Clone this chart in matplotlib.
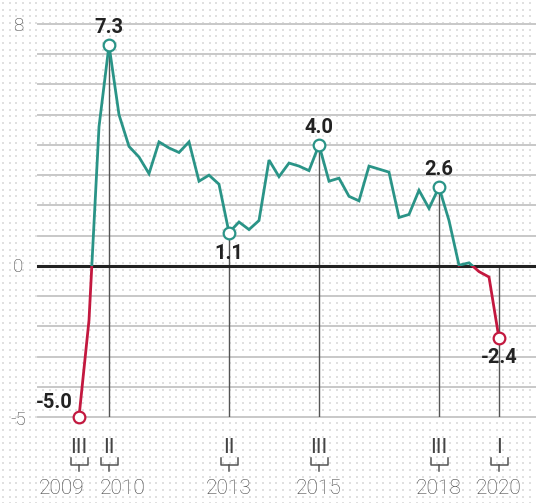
import matplotlib
matplotlib.use("Agg")
import matplotlib.pyplot as plt
from matplotlib.patches import Rectangle
import numpy as np

# quarterly values, 2009 III .. 2020 I
values = [-5.0, -1.8, 4.6, 7.3, 5.0, 3.95, 3.6, 3.05, 4.1, 3.9,
          3.75, 4.1, 2.8, 3.0, 2.7, 1.1, 1.45, 1.2, 1.5, 3.5,
          2.95, 3.4, 3.3, 3.15, 4.0, 2.8, 2.9, 2.3, 2.15, 3.3,
          3.2, 3.1, 1.6, 1.7, 2.5, 1.9, 2.6, 1.5, 0.02, 0.1,
          -0.19, -0.37, -2.4]
marked = [0, 3, 15, 24, 36, 42]
marked_quarters = ["III", "II", "II", "III", "III", "I"]
marked_years = ["2009", "2010", "2013", "2015", "2018", "2020"]
yticks = [8, 0, -5]

TEAL = "#2a9487"
RED = "#c3183f"
GREY = "#555555"

plt.rcParams["font.family"] = ["Roboto", "DejaVu Sans"]

W, H = 536, 503
fig = plt.figure(figsize=(W / 100, H / 100), dpi=100)

# dotted paper background
bg = np.ones((H, W, 3))
for yy in np.round(np.arange(2, H, 6.67)).astype(int):
    for xx in np.round(np.arange(2, W, 6.67)).astype(int):
        bg[yy:yy + 2, xx:xx + 2] = 0.88
fig.figimage(bg, xo=0, yo=0, zorder=-10)

ax = fig.add_axes([38 / W, (H - 417) / H, (W - 38) / W, (417 - 24) / H])
ax.patch.set_alpha(0)
ax.set_xlim(-4.1, 45.7)
ax.set_ylim(-5, 8)
for s in ax.spines.values():
    s.set_visible(False)
ax.set_xticks([])
ax.set_yticks([])

x = np.arange(len(values))
v = np.array(values)

# grid
for g in range(-5, 9):
    if g == 0:
        continue
    ax.axhline(g, color="#c8c8c8", lw=1.4, zorder=1, clip_on=False)
ax.axhline(0, color="#222222", lw=2.2, zorder=3, clip_on=False)

for lab in yticks:
    dy = -0.1 if lab == -5 else -0.05
    ax.text(-6.1, lab + dy, str(lab), ha="center", va="center", fontsize=13.5,
            fontweight="light", color="#444444", clip_on=False)

# vertical markers
for i in marked:
    if values[i] > -5:
        ax.plot([i, i], [-5, max(values[i], 0)], color=GREY, lw=1.0, zorder=2)

# line, teal above zero, red below
pos, = ax.plot(x, v, color=TEAL, lw=2.0, zorder=4, solid_joinstyle="miter")
neg, = ax.plot(x, v, color=RED, lw=2.0, zorder=4, solid_joinstyle="miter")
pos.set_clip_path(Rectangle((-10, 0), 80, 20, transform=ax.transData))
neg.set_clip_path(Rectangle((-10, -20), 80, 20, transform=ax.transData))

for i in marked:
    c = TEAL if values[i] > 0 else RED
    ax.plot(i, values[i], "o", ms=8.4, mfc="white", mec=c, mew=1.6,
            zorder=5, clip_on=False)

# value labels
offsets = {0: (-4.5, 10.5, "right"), 3: (0, 12.5, "center"), 15: (0, -15, "center"),
           24: (0, 12.5, "center"), 36: (0, 12.5, "center"), 42: (0, -14, "center")}
for i in marked:
    dx, dy, ha = offsets[i]
    ax.annotate(f"{values[i]:.1f}", (i, values[i]), xytext=(dx, dy),
                textcoords="offset points", ha=ha, va="center", fontsize=14.5,
                fontweight="bold", color="#222222", zorder=6,
                annotation_clip=False)

# quarter / year labels under the axis
year_shift = {0: -1.7, 3: 1.4}
for i, q, yr in zip(marked, marked_quarters, marked_years):
    ax.text(i, -6.0, q, ha="center", va="center", fontsize=15,
            fontweight="normal", color="#444444", clip_on=False)
    ax.plot([i - 0.85, i - 0.85, i + 0.85, i + 0.85], [-6.37, -6.59, -6.59, -6.37],
            color=GREY, lw=1.1, clip_on=False)
    ax.plot([i, i], [-6.59, -6.8], color=GREY, lw=1.1, clip_on=False)
    ax.text(i + year_shift.get(i, 0), -7.38, yr, ha="center", va="center",
            fontsize=15, fontweight="light", color="#444444", clip_on=False)

fig.savefig("out.png", dpi=100)
